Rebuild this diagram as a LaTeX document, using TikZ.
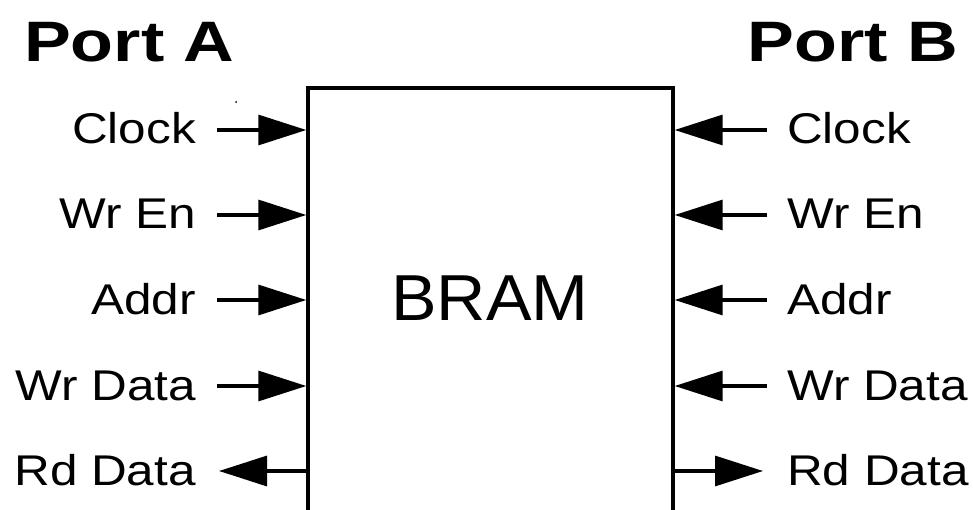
\documentclass[tikz,border=0pt]{standalone}
\usepackage{fontspec}
\setmainfont{Liberation Sans}
\usetikzlibrary{arrows.meta}
\tikzset{
  sig/.style={line width=3.2pt, -{Triangle[length=48pt,width=30pt]}},
  lab/.style={inner sep=0pt, font=\fontsize{43}{50}\selectfont},
  ttl/.style={inner sep=0pt, font=\fontsize{57}{66}\selectfont\bfseries},
  box/.style={draw, line width=3.4pt, minimum width=365pt, minimum height=460pt, inner sep=0pt}
}
\newcommand{\wlab}[1]{\scalebox{1.15}[1]{#1}}
\begin{document}
\begin{tikzpicture}[x=1pt,y=-1pt]
\clip (0,0) rectangle (973,510);
\fill[white] (0,0) rectangle (973,510);
% block
\node[box] (bram) at (490.5,318) {};
\node[inner sep=0pt, anchor=base, font=\fontsize{65}{76}\selectfont] (bramtxt) at (490,320) {\scalebox{1.05}[1]{BRAM}};
% titles
\node[ttl, anchor=base west] (porta) at (24,62) {\scalebox{1.23}[1]{Port A}};
\node[ttl, anchor=base east] (portb) at (958,62) {\scalebox{1.23}[1]{Port B}};
% left labels
\node[lab, anchor=base east] (aclk) at (196,144) {\wlab{Clock}};
\node[lab, anchor=base east] (awen) at (196,229) {\wlab{Wr En}};
\node[lab, anchor=base east] (aadr) at (196,314) {\wlab{Addr}};
\node[lab, anchor=base east] (awd)  at (196,400) {\wlab{Wr Data}};
\node[lab, anchor=base east] (ard)  at (196,485) {\wlab{Rd Data}};
% right labels
\node[lab, anchor=base west] (bclk) at (787,144) {\wlab{Clock}};
\node[lab, anchor=base west] (bwen) at (787,229) {\wlab{Wr En}};
\node[lab, anchor=base west] (badr) at (787,314) {\wlab{Addr}};
\node[lab, anchor=base west] (bwd)  at (787,400) {\wlab{Wr Data}};
\node[lab, anchor=base west] (brd)  at (787,485) {\wlab{Rd Data}};
% free ends of connectors
\coordinate (a1) at (217,130);
\coordinate (a2) at (217,215);
\coordinate (a3) at (217,300);
\coordinate (a4) at (217,386);
\coordinate (a5) at (219,471);
\coordinate (b1) at (767,130);
\coordinate (b2) at (767,215);
\coordinate (b3) at (767,300);
\coordinate (b4) at (767,386);
\coordinate (b5) at (763,471);
% connectors
\draw[sig] (a1) -- (a1 -| bram.west);
\draw[sig] (a2) -- (a2 -| bram.west);
\draw[sig] (a3) -- (a3 -| bram.west);
\draw[sig] (a4) -- (a4 -| bram.west);
\draw[sig] (a5 -| bram.west) -- (a5);
\draw[sig] (b1) -- (b1 -| bram.east);
\draw[sig] (b2) -- (b2 -| bram.east);
\draw[sig] (b3) -- (b3 -| bram.east);
\draw[sig] (b4) -- (b4 -| bram.east);
\draw[sig] (b5 -| bram.east) -- (b5);
% stray dot
\fill (236,102) circle (1pt);
\end{tikzpicture}
\end{document}
